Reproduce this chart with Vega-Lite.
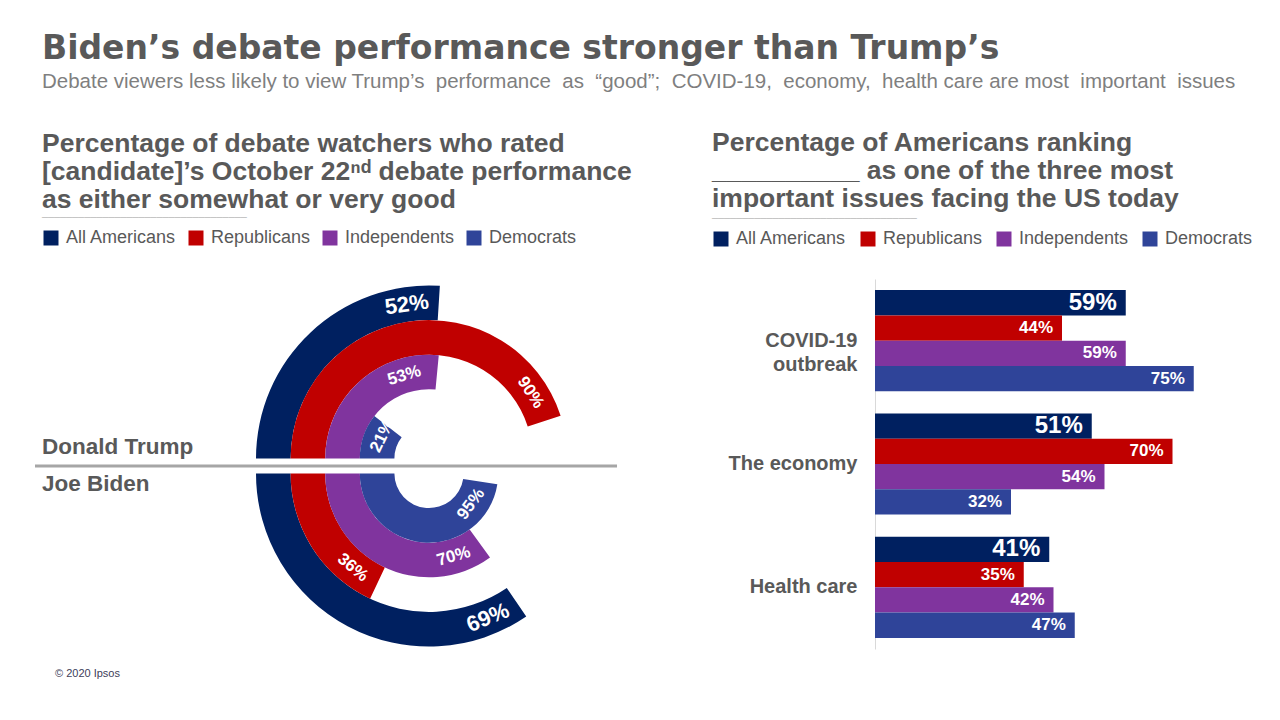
{
  "$schema": "https://vega.github.io/schema/vega-lite/v6.json",
  "background": "white",
  "padding": {"left": 33, "top": 33, "right": 0, "bottom": 0},
  "config": {"view": {"stroke": null}, "font": "Liberation Sans"},
  "title": {
    "text": "Biden’s debate performance stronger than Trump’s",
    "subtitle": "Debate viewers less likely to view Trump’s \u00a0performance \u00a0as \u00a0“good”; \u00a0COVID-19, \u00a0economy, \u00a0health care are most \u00a0important \u00a0issues",
    "anchor": "start", "frame": "group", "dx": 7, "offset": 37,
    "font": "DejaVu Sans", "fontSize": 33, "fontWeight": "bold", "color": "#595959",
    "subtitleFont": "Liberation Sans", "subtitleFontSize": 20.5, "subtitleColor": "#7f7f7f", "subtitlePadding": 6
  },
  "datasets": {
    "debate": [
      {"candidate": "Donald Trump", "group": "All Americans", "share": 0.52},
      {"candidate": "Donald Trump", "group": "Republicans", "share": 0.90},
      {"candidate": "Donald Trump", "group": "Independents", "share": 0.53},
      {"candidate": "Donald Trump", "group": "Democrats", "share": 0.21},
      {"candidate": "Joe Biden", "group": "All Americans", "share": 0.69},
      {"candidate": "Joe Biden", "group": "Republicans", "share": 0.36},
      {"candidate": "Joe Biden", "group": "Independents", "share": 0.70},
      {"candidate": "Joe Biden", "group": "Democrats", "share": 0.95}
    ],
    "issues": [
      {"issue": "COVID-19 outbreak", "group": "All Americans", "share": 0.59},
      {"issue": "COVID-19 outbreak", "group": "Republicans", "share": 0.44},
      {"issue": "COVID-19 outbreak", "group": "Independents", "share": 0.59},
      {"issue": "COVID-19 outbreak", "group": "Democrats", "share": 0.75},
      {"issue": "The economy", "group": "All Americans", "share": 0.51},
      {"issue": "The economy", "group": "Republicans", "share": 0.70},
      {"issue": "The economy", "group": "Independents", "share": 0.54},
      {"issue": "The economy", "group": "Democrats", "share": 0.32},
      {"issue": "Health care", "group": "All Americans", "share": 0.41},
      {"issue": "Health care", "group": "Republicans", "share": 0.35},
      {"issue": "Health care", "group": "Independents", "share": 0.42},
      {"issue": "Health care", "group": "Democrats", "share": 0.47}
    ]
  },
  "bounds": "flush",
  "spacing": 52,
  "resolve": {"scale": {"color": "independent"}, "legend": {"color": "independent"}},
  "hconcat": [
    {
      "width": 788, "height": 374,
      "title": {
        "text": ["Percentage of debate watchers who rated", "[candidate]’s October 22ⁿᵈ debate performance", "as either somewhat or very good"],
        "subtitle": "──────────────────────────────────",
        "anchor": "start", "frame": "group", "dx": 7, "offset": 6,
        "fontSize": 26.5, "fontWeight": "bold", "color": "#595959", "lineHeight": 28,
        "subtitleFont": "DejaVu Sans", "subtitleFontSize": 10, "subtitleColor": "#bfbfbf", "subtitlePadding": 0
      },
      "resolve": {"scale": {"theta": "independent", "angle": "independent"}},
      "layer": [
        {
          "data": {"name": "debate"},
          "transform": [{"filter": "datum.candidate == 'Donald Trump'"}],
          "mark": {"type": "arc", "yOffset": -7.5, "radius2Offset": -34.6},
          "encoding": {
            "theta": {"field": "share", "type": "quantitative", "stack": null, "scale": {"domain": [0, 1], "range": [-1.5708, 1.5708]}},
            "theta2": {"datum": 0},
            "radius": {"field": "group", "type": "nominal", "scale": {"type": "point", "domain": ["All Americans", "Republicans", "Independents", "Democrats"], "range": [173, 69.2], "padding": 0}},
            "radius2": {"field": "group"},
            "color": {
              "field": "group", "type": "nominal",
              "scale": {"domain": ["All Americans", "Republicans", "Independents", "Democrats"], "range": ["#002060", "#c00000", "#80349e", "#2f4499"]},
              "legend": {"orient": "none", "legendX": 7, "legendY": -50, "direction": "horizontal", "columns": 4, "title": null, "symbolType": "square", "symbolSize": 225, "symbolStrokeWidth": 0, "labelFontSize": 18, "labelColor": "#595959", "columnPadding": 10, "labelOffset": 6}
            }
          }
        },
        {
          "data": {"name": "debate"},
          "transform": [{"filter": "datum.candidate == 'Joe Biden'"}],
          "mark": {"type": "arc", "yOffset": 7.5, "radius2Offset": -34.6},
          "encoding": {
            "theta": {"field": "share", "type": "quantitative", "stack": null, "scale": {"domain": [0, 1], "range": [4.7124, 1.5708]}},
            "theta2": {"datum": 0},
            "radius": {"field": "group", "type": "nominal", "scale": {"type": "point", "domain": ["All Americans", "Republicans", "Independents", "Democrats"], "range": [173, 69.2], "padding": 0}},
            "radius2": {"field": "group"},
            "color": {"field": "group", "type": "nominal"}
          }
        },
        {
          "data": {"name": "debate"},
          "transform": [{"filter": "datum.candidate == 'Donald Trump' && datum.group == 'All Americans'"}],
          "mark": {"type": "text", "yOffset": -7.5, "radiusOffset": -17.3, "fontWeight": "bold", "fontSize": 22, "color": "white", "align": "center", "baseline": "middle"},
          "encoding": {
            "theta": {"field": "share", "type": "quantitative", "scale": {"domain": [0, 1], "range": [-1.7768, 1.3648]}},
            "radius": {"field": "group", "type": "nominal", "scale": {"type": "point", "domain": ["All Americans", "Republicans", "Independents", "Democrats"], "range": [173, 69.2], "padding": 0}},
            "angle": {"field": "share", "type": "quantitative", "scale": {"domain": [0, 1], "range": [-101.8, 78.2]}},
            "text": {"field": "share", "type": "quantitative", "format": ".0%"}
          }
        },
        {
          "data": {"name": "debate"},
          "transform": [{"filter": "datum.candidate == 'Donald Trump' && datum.group == 'Republicans'"}],
          "mark": {"type": "text", "yOffset": -7.5, "radiusOffset": -17.3, "fontWeight": "bold", "fontSize": 17, "color": "white", "align": "center", "baseline": "middle"},
          "encoding": {
            "theta": {"field": "share", "type": "quantitative", "scale": {"domain": [0, 1], "range": [-1.8328, 1.3088]}},
            "radius": {"field": "group", "type": "nominal", "scale": {"type": "point", "domain": ["All Americans", "Republicans", "Independents", "Democrats"], "range": [173, 69.2], "padding": 0}},
            "angle": {"field": "share", "type": "quantitative", "scale": {"domain": [0, 1], "range": [-105, 75]}},
            "text": {"field": "share", "type": "quantitative", "format": ".0%"}
          }
        },
        {
          "data": {"name": "debate"},
          "transform": [{"filter": "datum.candidate == 'Donald Trump' && datum.group == 'Independents'"}],
          "mark": {"type": "text", "yOffset": -7.5, "radiusOffset": -17.3, "fontWeight": "bold", "fontSize": 17, "color": "white", "align": "center", "baseline": "middle"},
          "encoding": {
            "theta": {"field": "share", "type": "quantitative", "scale": {"domain": [0, 1], "range": [-1.9548, 1.1868]}},
            "radius": {"field": "group", "type": "nominal", "scale": {"type": "point", "domain": ["All Americans", "Republicans", "Independents", "Democrats"], "range": [173, 69.2], "padding": 0}},
            "angle": {"field": "share", "type": "quantitative", "scale": {"domain": [0, 1], "range": [-112, 68]}},
            "text": {"field": "share", "type": "quantitative", "format": ".0%"}
          }
        },
        {
          "data": {"name": "debate"},
          "transform": [{"filter": "datum.candidate == 'Donald Trump' && datum.group == 'Democrats'"}],
          "mark": {"type": "text", "yOffset": -7.5, "radiusOffset": -17.3, "fontWeight": "bold", "fontSize": 17, "color": "white", "align": "center", "baseline": "middle"},
          "encoding": {
            "theta": {"field": "share", "type": "quantitative", "scale": {"domain": [0, 1], "range": [-1.7808, 1.3608]}},
            "radius": {"field": "group", "type": "nominal", "scale": {"type": "point", "domain": ["All Americans", "Republicans", "Independents", "Democrats"], "range": [173, 69.2], "padding": 0}},
            "angle": {"field": "share", "type": "quantitative", "scale": {"domain": [0, 1], "range": [-102, 78]}},
            "text": {"field": "share", "type": "quantitative", "format": ".0%"}
          }
        },
        {
          "data": {"name": "debate"},
          "transform": [{"filter": "datum.candidate == 'Joe Biden' && datum.group == 'All Americans'"}],
          "mark": {"type": "text", "yOffset": 7.5, "radiusOffset": -17.3, "fontWeight": "bold", "fontSize": 22, "color": "white", "align": "center", "baseline": "middle"},
          "encoding": {
            "theta": {"field": "share", "type": "quantitative", "scale": {"domain": [0, 1], "range": [4.9214, 1.7798]}},
            "radius": {"field": "group", "type": "nominal", "scale": {"type": "point", "domain": ["All Americans", "Republicans", "Independents", "Democrats"], "range": [173, 69.2], "padding": 0}},
            "angle": {"field": "share", "type": "quantitative", "scale": {"domain": [0, 1], "range": [102, -78]}},
            "text": {"field": "share", "type": "quantitative", "format": ".0%"}
          }
        },
        {
          "data": {"name": "debate"},
          "transform": [{"filter": "datum.candidate == 'Joe Biden' && datum.group == 'Republicans'"}],
          "mark": {"type": "text", "yOffset": 7.5, "radiusOffset": -17.3, "fontWeight": "bold", "fontSize": 17, "color": "white", "align": "center", "baseline": "middle"},
          "encoding": {
            "theta": {"field": "share", "type": "quantitative", "scale": {"domain": [0, 1], "range": [4.9534, 1.8118]}},
            "radius": {"field": "group", "type": "nominal", "scale": {"type": "point", "domain": ["All Americans", "Republicans", "Independents", "Democrats"], "range": [173, 69.2], "padding": 0}},
            "angle": {"field": "share", "type": "quantitative", "scale": {"domain": [0, 1], "range": [103.8, -76.2]}},
            "text": {"field": "share", "type": "quantitative", "format": ".0%"}
          }
        },
        {
          "data": {"name": "debate"},
          "transform": [{"filter": "datum.candidate == 'Joe Biden' && datum.group == 'Independents'"}],
          "mark": {"type": "text", "yOffset": 7.5, "radiusOffset": -17.3, "fontWeight": "bold", "fontSize": 17, "color": "white", "align": "center", "baseline": "middle"},
          "encoding": {
            "theta": {"field": "share", "type": "quantitative", "scale": {"domain": [0, 1], "range": [5.0514, 1.9098]}},
            "radius": {"field": "group", "type": "nominal", "scale": {"type": "point", "domain": ["All Americans", "Republicans", "Independents", "Democrats"], "range": [173, 69.2], "padding": 0}},
            "angle": {"field": "share", "type": "quantitative", "scale": {"domain": [0, 1], "range": [109.4, -70.6]}},
            "text": {"field": "share", "type": "quantitative", "format": ".0%"}
          }
        },
        {
          "data": {"name": "debate"},
          "transform": [{"filter": "datum.candidate == 'Joe Biden' && datum.group == 'Democrats'"}],
          "mark": {"type": "text", "yOffset": 7.5, "radiusOffset": -17.3, "fontWeight": "bold", "fontSize": 17, "color": "white", "align": "center", "baseline": "middle"},
          "encoding": {
            "theta": {"field": "share", "type": "quantitative", "scale": {"domain": [0, 1], "range": [5.1834, 2.0418]}},
            "radius": {"field": "group", "type": "nominal", "scale": {"type": "point", "domain": ["All Americans", "Republicans", "Independents", "Democrats"], "range": [173, 69.2], "padding": 0}},
            "angle": {"field": "share", "type": "quantitative", "scale": {"domain": [0, 1], "range": [117, -63]}},
            "text": {"field": "share", "type": "quantitative", "format": ".0%"}
          }
        },
        {
          "data": {"values": [{"label": "divider"}]},
          "mark": {"type": "rule", "color": "#a6a6a6", "strokeWidth": 3},
          "encoding": {
            "x": {"datum": 0, "type": "quantitative", "scale": {"domain": [0, 1]}, "axis": null},
            "x2": {"datum": 0.7386},
            "y": {"datum": 0, "type": "quantitative", "scale": {"domain": [-1, 1]}, "axis": null}
          }
        },
        {
          "data": {"values": [{"label": "Donald Trump"}]},
          "mark": {"type": "text", "align": "left", "baseline": "middle", "dx": 7, "dy": -19, "fontSize": 22.5, "fontWeight": "bold", "color": "#595959"},
          "encoding": {
            "x": {"datum": 0, "type": "quantitative"},
            "y": {"datum": 0, "type": "quantitative"},
            "text": {"field": "label"}
          }
        },
        {
          "data": {"values": [{"label": "Joe Biden"}]},
          "mark": {"type": "text", "align": "left", "baseline": "middle", "dx": 7, "dy": 18, "fontSize": 22.5, "fontWeight": "bold", "color": "#595959"},
          "encoding": {
            "x": {"datum": 0, "type": "quantitative"},
            "y": {"datum": 0, "type": "quantitative"},
            "text": {"field": "label"}
          }
        },
        {
          "data": {"values": [{"label": "© 2020 Ipsos"}]},
          "mark": {"type": "text", "align": "left", "baseline": "middle", "dx": 20, "dy": 21, "fontSize": 11, "color": "#40405a"},
          "encoding": {
            "x": {"datum": 0, "type": "quantitative"},
            "y": {"datum": -1, "type": "quantitative"},
            "text": {"field": "label"}
          }
        }
      ]
    },
    {
      "width": 340, "height": 370,
      "title": {
        "text": ["Percentage of Americans ranking", "__________ as one of the three most", "important issues facing the US today"],
        "subtitle": "──────────────────────────────────",
        "anchor": "start", "frame": "group", "dx": -163, "offset": 6,
        "fontSize": 26.5, "fontWeight": "bold", "color": "#595959", "lineHeight": 28,
        "subtitleFont": "DejaVu Sans", "subtitleFontSize": 10, "subtitleColor": "#bfbfbf", "subtitlePadding": 2
      },
      "data": {"name": "issues"},
      "encoding": {
        "y": {
          "field": "issue", "type": "nominal", "sort": null,
          "scale": {"paddingInner": 0.18, "paddingOuter": 0.09},
          "axis": {"title": null, "domainColor": "#d9d9d9", "domainWidth": 1, "ticks": false, "grid": false, "labelFontSize": 20, "labelFontWeight": "bold", "labelColor": "#595959", "labelPadding": 18, "labelLineHeight": 24, "labelExpr": "datum.value == 'COVID-19 outbreak' ? ['COVID-19', 'outbreak'] : datum.value"}
        },
        "yOffset": {"field": "group", "type": "nominal", "sort": ["All Americans", "Republicans", "Independents", "Democrats"], "scale": {"domain": ["All Americans", "Republicans", "Independents", "Democrats"], "paddingInner": 0, "paddingOuter": 0}},
        "x": {"field": "share", "type": "quantitative", "scale": {"domain": [0, 0.8]}, "axis": null}
      },
      "layer": [
        {
          "mark": {"type": "bar"},
          "encoding": {
            "color": {
              "field": "group", "type": "nominal",
              "scale": {"domain": ["All Americans", "Republicans", "Independents", "Democrats"], "range": ["#002060", "#c00000", "#80349e", "#2f4499"]},
              "legend": {"orient": "none", "legendX": -163, "legendY": -49, "direction": "horizontal", "columns": 4, "title": null, "symbolType": "square", "symbolSize": 225, "symbolStrokeWidth": 0, "labelFontSize": 18, "labelColor": "#595959", "columnPadding": 12, "labelOffset": 6}
            }
          }
        },
        {
          "mark": {"type": "text", "align": "right", "baseline": "middle", "dx": -9, "color": "white", "fontWeight": "bold"},
          "encoding": {
            "text": {"field": "share", "type": "quantitative", "format": ".0%"},
            "size": {"condition": {"test": "datum.group == 'All Americans'", "value": 24}, "value": 17}
          }
        }
      ]
    }
  ]
}
